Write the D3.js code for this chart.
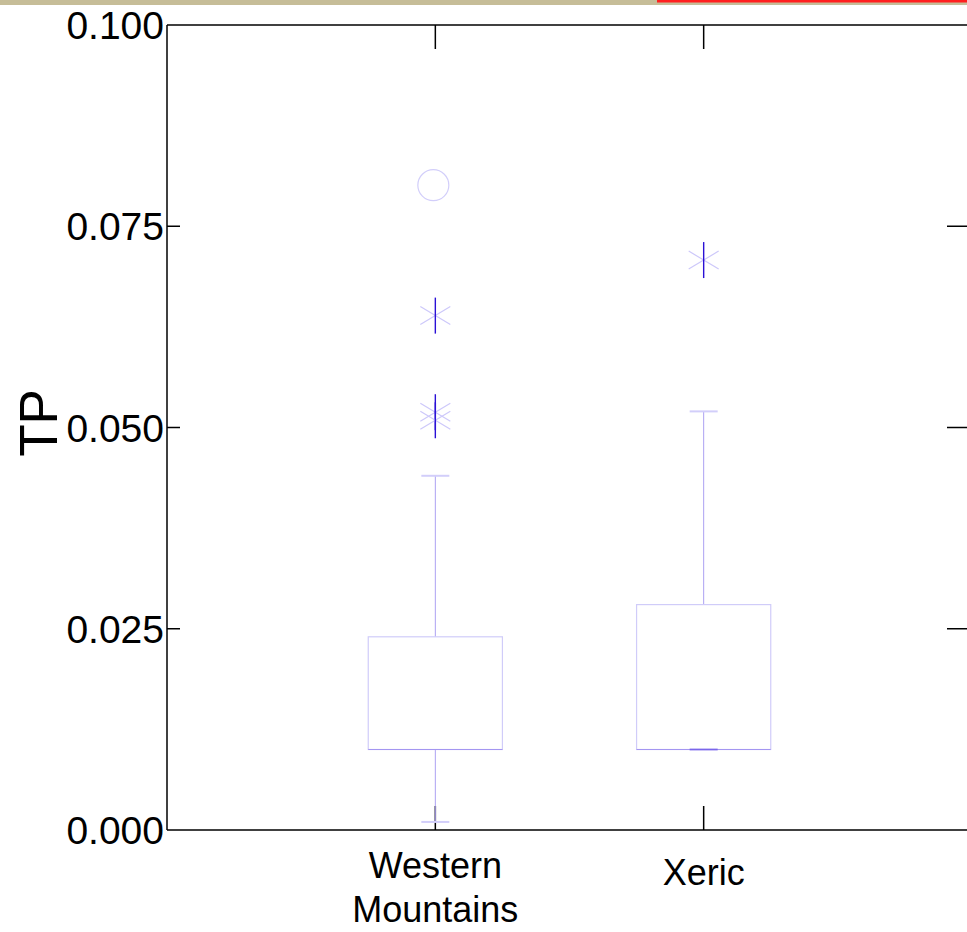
<!DOCTYPE html>
<html><head><meta charset="utf-8">
<script src="https://cdn.jsdelivr.net/npm/d3@7"></script>
<style>html,body{margin:0;padding:0;background:#fff;}svg{display:block;}</style>
</head><body>
<script>
const categories = ["Western Mountains", "Xeric"];
const categoryLines = [["Western", "Mountains"], ["Xeric"]];
const q1 = [0.010, 0.010];
const median = [0.010, 0.010];
const q3 = [0.024, 0.028];
const whiskerLow = [0.001, 0.010];
const whiskerHigh = [0.044, 0.052];
const outliers = [[0.0639, 0.0519, 0.0509], [0.0708]];
const extremes = [[0.0801], []];
const yTicks = [0.000, 0.025, 0.050, 0.075, 0.100];
const yTickLabels = ["0.000", "0.025", "0.050", "0.075", "0.100"];
const yLabel = "TP";

(function () {
const W = 967, H = 932;
const pL = 167, pR = 972, pT = 25, pB = 830;
const svg = d3.select("body").append("svg").attr("width", W).attr("height", H);
svg.append("rect").attr("x",0).attr("y",0).attr("width",W).attr("height",H).attr("fill","#fff");
svg.append("rect").attr("x",0).attr("y",0).attr("width",W).attr("height",5).attr("fill","#c6bd98");
svg.append("rect").attr("x",657).attr("y",0).attr("width",W-657).attr("height",2.5).attr("fill","#ff1f1f");

const y = d3.scaleLinear().domain([0, 0.1]).range([pB, pT]);
const x = d3.scalePoint().domain(categories).range([pL, pR]).padding(1);
const step = x.step();
const boxHalf = step * 0.25;
const capHalf = 14;

const frame = svg.append("g").attr("stroke", "#000").attr("stroke-width", 1.5).attr("fill", "none");
frame.append("line").attr("x1", pL).attr("x2", pR).attr("y1", pT).attr("y2", pT);
frame.append("line").attr("x1", pL).attr("x2", pR).attr("y1", pB).attr("y2", pB);
frame.append("line").attr("x1", pL).attr("x2", pL).attr("y1", pT).attr("y2", pB);
frame.append("line").attr("x1", pR).attr("x2", pR).attr("y1", pT).attr("y2", pB);

yTicks.forEach((t, i) => {
  const yy = y(t);
  if (i > 0 && i < yTicks.length - 1) {
    frame.append("line").attr("x1", pL).attr("x2", pL + 13).attr("y1", yy).attr("y2", yy);
    frame.append("line").attr("x1", pR - 25).attr("x2", pR).attr("y1", yy).attr("y2", yy);
  }
  svg.append("text").attr("x", pL - 3).attr("y", yy).attr("dy", "0.36em")
    .attr("text-anchor", "end").attr("font-family", "Liberation Sans, Arial, sans-serif")
    .attr("font-size", 39).attr("fill", "#000").text(yTickLabels[i]);
});
categories.forEach(c => {
  frame.append("line").attr("x1", x(c)).attr("x2", x(c)).attr("y1", pB).attr("y2", pB - 24);
  frame.append("line").attr("x1", x(c)).attr("x2", x(c)).attr("y1", pT).attr("y2", pT + 24);
});

svg.append("text").attr("transform", `translate(57,${423}) rotate(-90)`)
  .attr("text-anchor", "middle").attr("font-family", "Liberation Sans, Arial, sans-serif")
  .attr("font-size", 53).attr("fill", "#000").text(yLabel);

categories.forEach((c, i) => {
  const lines = categoryLines[i];
  const baseY = lines.length > 1 ? 878 : 885;
  lines.forEach((ln, j) => {
    svg.append("text").attr("x", x(c)).attr("y", baseY + j * 44).attr("text-anchor", "middle")
      .attr("font-family", "Liberation Sans, Arial, sans-serif").attr("font-size", 36)
      .attr("fill", "#000").text(ln);
  });
});

const g = svg.append("g").attr("fill", "none");
categories.forEach((c, i) => {
  const cx = x(c);
  g.append("line").attr("x1", cx).attr("x2", cx).attr("y1", y(q3[i])).attr("y2", y(whiskerHigh[i]))
    .attr("stroke", "#aca2f2").attr("stroke-width", 1);
  g.append("line").attr("x1", cx).attr("x2", cx).attr("y1", y(q1[i])).attr("y2", y(whiskerLow[i]))
    .attr("stroke", "#aca2f2").attr("stroke-width", 1);
  [whiskerHigh[i], whiskerLow[i]].forEach(v => {
    g.append("line").attr("x1", cx - capHalf).attr("x2", cx + capHalf).attr("y1", y(v)).attr("y2", y(v))
      .attr("stroke", "#d2cefa").attr("stroke-width", 2);
  });
  g.append("rect").attr("x", cx - boxHalf).attr("y", y(q3[i])).attr("width", 2 * boxHalf)
    .attr("height", y(q1[i]) - y(q3[i])).attr("stroke", "#d0ccf9").attr("stroke-width", 1.2);
  g.append("line").attr("x1", cx - boxHalf).attr("x2", cx + boxHalf).attr("y1", y(median[i])).attr("y2", y(median[i]))
    .attr("stroke", "#a496f1").attr("stroke-width", 1.2);
  if (whiskerLow[i] === q1[i]) {
    g.append("line").attr("x1", cx - capHalf).attr("x2", cx + capHalf).attr("y1", y(q1[i])).attr("y2", y(q1[i]))
      .attr("stroke", "#7a66ea").attr("stroke-width", 1.5);
  }
  outliers[i].forEach(v => {
    const yy = y(v);
    g.append("line").attr("x1", cx - 15).attr("x2", cx + 15).attr("y1", yy - 9).attr("y2", yy + 9)
      .attr("stroke", "#cdc8fa").attr("stroke-width", 1.2);
    g.append("line").attr("x1", cx - 15).attr("x2", cx + 15).attr("y1", yy + 9).attr("y2", yy - 9)
      .attr("stroke", "#cdc8fa").attr("stroke-width", 1.2);
    g.append("line").attr("x1", cx).attr("x2", cx).attr("y1", yy - 18).attr("y2", yy + 18)
      .attr("stroke", "#2a10d6").attr("stroke-width", 1.4);
  });
  extremes[i].forEach(v => {
    g.append("circle").attr("cx", cx - 2).attr("cy", y(v)).attr("r", 15.5)
      .attr("stroke", "#d2cefa").attr("stroke-width", 1.2);
  });
});
})();
</script>
</body></html>
